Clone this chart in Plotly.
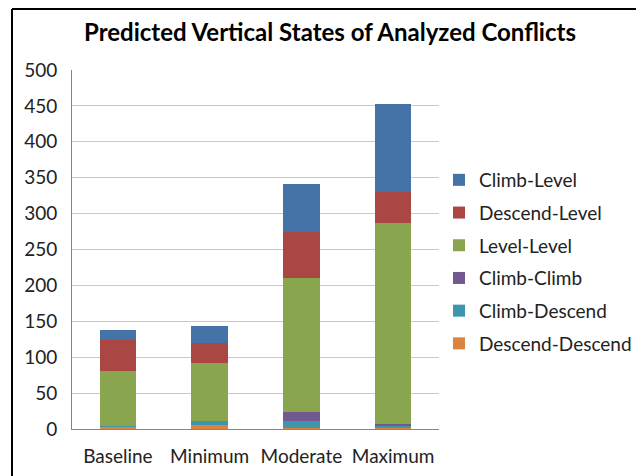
import plotly.graph_objects as go

categories = ["Baseline", "Minimum", "Moderate", "Maximum"]
descend_descend = [3, 6, 1, 1]
climb_descend = [1, 5, 10, 4]
climb_climb = [0, 0, 12, 2]
level_level = [77, 81, 188, 280]
descend_level = [43, 28, 63, 43]
climb_level = [14, 23, 67, 122]
y_ticks = [0, 50, 100, 150, 200, 250, 300, 350, 400, 450, 500]

series = [
    ("Descend-Descend", descend_descend, "#DB843D"),
    ("Climb-Descend", climb_descend, "#3D96AE"),
    ("Climb-Climb", climb_climb, "#71588F"),
    ("Level-Level", level_level, "#89A54E"),
    ("Descend-Level", descend_level, "#AA4643"),
    ("Climb-Level", climb_level, "#4572A7"),
]

FONT = "Lato"
fig = go.Figure()
n = len(series)
for i, (name, vals, col) in enumerate(series):
    fig.add_trace(go.Bar(
        x=categories, y=vals, name=name, legendgroup=name,
        legendrank=n - i,
        marker=dict(color=col, line=dict(width=0)),
    ))

# page has an 8px body margin; work in figure coordinates
OFF = 8
W, H = 644 - OFF, 476 - OFF
L, R, T, B = 72 - OFF, 644 - 439, 70 - OFF, 476 - 429
pw, ph = W - L - R, H - T - B

def px(xpage):
    return (xpage - OFF - L) / pw

def py(ypage):
    return (H - B - (ypage - OFF)) / ph

fig.update_layout(
    width=W, height=H,
    margin=dict(l=L, r=R, t=T, b=B, autoexpand=False),
    barmode="stack", bargap=0.6,
    paper_bgcolor="white", plot_bgcolor="white",
    font=dict(family=FONT, size=19, color="#222222"),
    title=dict(text="<b>Predicted Vertical States of Analyzed Conflicts</b>",
               x=(330 - OFF) / W, xref="container", xanchor="center",
               y=1 - (33 - OFF) / H, yref="container", yanchor="middle",
               font=dict(family=FONT, size=24, color="#000000")),
    showlegend=True,
    legend=dict(x=px(439), xanchor="left", y=py(161), yanchor="top",
                traceorder="grouped", tracegroupgap=5,
                font=dict(family=FONT, size=19, color="#222222"),
                bgcolor="rgba(0,0,0,0)"),
    xaxis=dict(showline=True, linecolor="#868686", linewidth=1, automargin=False,
               ticks="", tickfont=dict(size=19), ticklabelstandoff=10),
    yaxis=dict(range=[0, 500], tickvals=y_ticks, showgrid=True, automargin=False,
               gridcolor="#C8C8C8", gridwidth=1, showline=True,
               linecolor="#868686", linewidth=1, ticks="",
               tickfont=dict(size=19), ticklabelstandoff=10, zeroline=False),
    shapes=[
        dict(type="line", xref="paper", yref="paper", x0=px(12), x1=px(12),
             y0=py(9), y1=py(490), line=dict(color="#000000", width=2)),
        dict(type="line", xref="paper", yref="paper", x0=px(12), x1=px(643),
             y0=py(9), y1=py(9), line=dict(color="#000000", width=2)),
        dict(type="line", xref="paper", yref="paper", x0=px(643), x1=px(643),
             y0=py(9), y1=py(490), line=dict(color="#888888", width=2)),
    ],
)

fig.write_html("out.html")
